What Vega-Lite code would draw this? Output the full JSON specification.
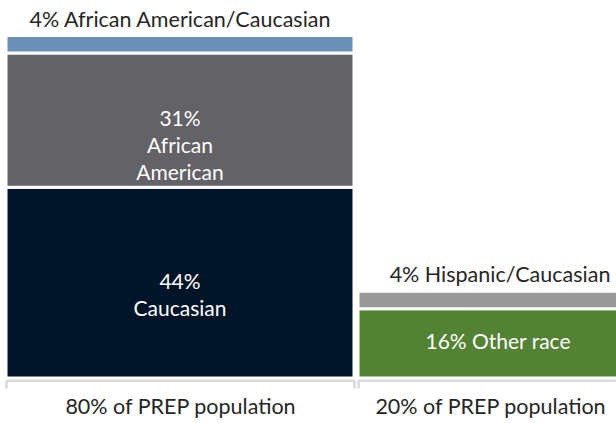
{
  "$schema": "https://vega.github.io/schema/vega-lite/v6.json",
  "padding": {"left": 4, "top": 0, "right": 0, "bottom": 0},
  "spacing": 0,
  "config": {"view": {"stroke": null}, "font": "Lato", "concat": {"spacing": 0}},
  "datasets": {
    "prep": [
      {"group": "80% of PREP population", "race": "Caucasian", "pct": 44, "label": "44%\nCaucasian", "order": 1},
      {"group": "80% of PREP population", "race": "African American", "pct": 31, "label": "31%\nAfrican\nAmerican", "order": 2},
      {"group": "80% of PREP population", "race": "African American/Caucasian", "pct": 4, "label": "4% African American/Caucasian", "order": 3},
      {"group": "20% of PREP population", "race": "Other race", "pct": 16, "label": "16% Other race", "order": 1},
      {"group": "20% of PREP population", "race": "Hispanic/Caucasian", "pct": 4, "label": "4% Hispanic/Caucasian", "order": 2}
    ]
  },
  "hconcat": [
    {
      "width": 348,
      "height": 378,
      "data": {"name": "prep"},
      "transform": [
        {"filter": "datum.group === '80% of PREP population'"},
        {"stack": "pct", "groupby": ["group"], "sort": [{"field": "order"}], "as": ["y0", "y1"]},
        {"calculate": "(datum.y0 + datum.y1) / 2", "as": "ymid"}
      ],
      "encoding": {
        "x": {
          "field": "group", "type": "nominal",
          "scale": {"paddingInner": 0, "paddingOuter": 0},
          "axis": {"title": null, "labelAngle": 0, "domainColor": "#d9d9d9", "domainWidth": 3, "tickColor": "#d9d9d9", "tickWidth": 2.5, "tickSize": 8, "tickBand": "extent", "offset": 2, "labelFontSize": 21.5, "labelColor": "#262626", "labelPadding": 8, "labelLimit": 0}
        }
      },
      "layer": [
        {
          "mark": {"type": "bar", "stroke": "white", "strokeWidth": 3, "width": {"band": 1}},
          "encoding": {
            "y": {"field": "y0", "type": "quantitative", "scale": {"domain": [0, 87.2], "nice": false}, "axis": null},
            "y2": {"field": "y1"},
            "color": {"field": "race", "type": "nominal", "legend": null,
              "scale": {"domain": ["African American/Caucasian", "African American", "Caucasian", "Hispanic/Caucasian", "Other race"], "range": ["#6b8fb5", "#636266", "#011428", "#999999", "#548235"]}}
          }
        },
        {
          "transform": [{"filter": "datum.pct >= 10"}],
          "mark": {"type": "text", "color": "white", "fontSize": 21, "lineBreak": "\n", "lineHeight": 27},
          "encoding": {"y": {"field": "ymid", "type": "quantitative"}, "text": {"field": "label"}}
        },
        {
          "transform": [{"filter": "datum.pct < 10"}],
          "mark": {"type": "text", "color": "#262626", "fontSize": 21.5, "baseline": "alphabetic", "dy": -9},
          "encoding": {"y": {"field": "y1", "type": "quantitative"}, "text": {"field": "label"}}
        }
      ]
    },
    {
      "width": 264,
      "height": 378,
      "data": {"name": "prep"},
      "transform": [
        {"filter": "datum.group === '20% of PREP population'"},
        {"stack": "pct", "groupby": ["group"], "sort": [{"field": "order"}], "as": ["y0", "y1"]},
        {"calculate": "(datum.y0 + datum.y1) / 2", "as": "ymid"}
      ],
      "encoding": {
        "x": {
          "field": "group", "type": "nominal",
          "scale": {"paddingInner": 0, "paddingOuter": 0},
          "axis": {"title": null, "labelAngle": 0, "domainColor": "#d9d9d9", "domainWidth": 3, "tickColor": "#d9d9d9", "tickWidth": 2.5, "tickSize": 8, "tickBand": "extent", "offset": 2, "labelFontSize": 21.5, "labelColor": "#262626", "labelPadding": 8, "labelLimit": 0}
        }
      },
      "layer": [
        {
          "mark": {"type": "bar", "stroke": "white", "strokeWidth": 3, "width": {"band": 1}},
          "encoding": {
            "y": {"field": "y0", "type": "quantitative", "scale": {"domain": [0, 87.2], "nice": false}, "axis": null},
            "y2": {"field": "y1"},
            "color": {"field": "race", "type": "nominal", "legend": null,
              "scale": {"domain": ["African American/Caucasian", "African American", "Caucasian", "Hispanic/Caucasian", "Other race"], "range": ["#6b8fb5", "#636266", "#011428", "#999999", "#548235"]}}
          }
        },
        {
          "transform": [{"filter": "datum.pct >= 10"}],
          "mark": {"type": "text", "color": "white", "fontSize": 21, "lineBreak": "\n", "lineHeight": 27, "dx": 8},
          "encoding": {"y": {"field": "ymid", "type": "quantitative"}, "text": {"field": "label"}}
        },
        {
          "transform": [{"filter": "datum.pct < 10"}],
          "mark": {"type": "text", "color": "#262626", "fontSize": 21.5, "baseline": "alphabetic", "dy": -9, "dx": 10},
          "encoding": {"y": {"field": "y1", "type": "quantitative"}, "text": {"field": "label"}}
        }
      ]
    }
  ]
}
